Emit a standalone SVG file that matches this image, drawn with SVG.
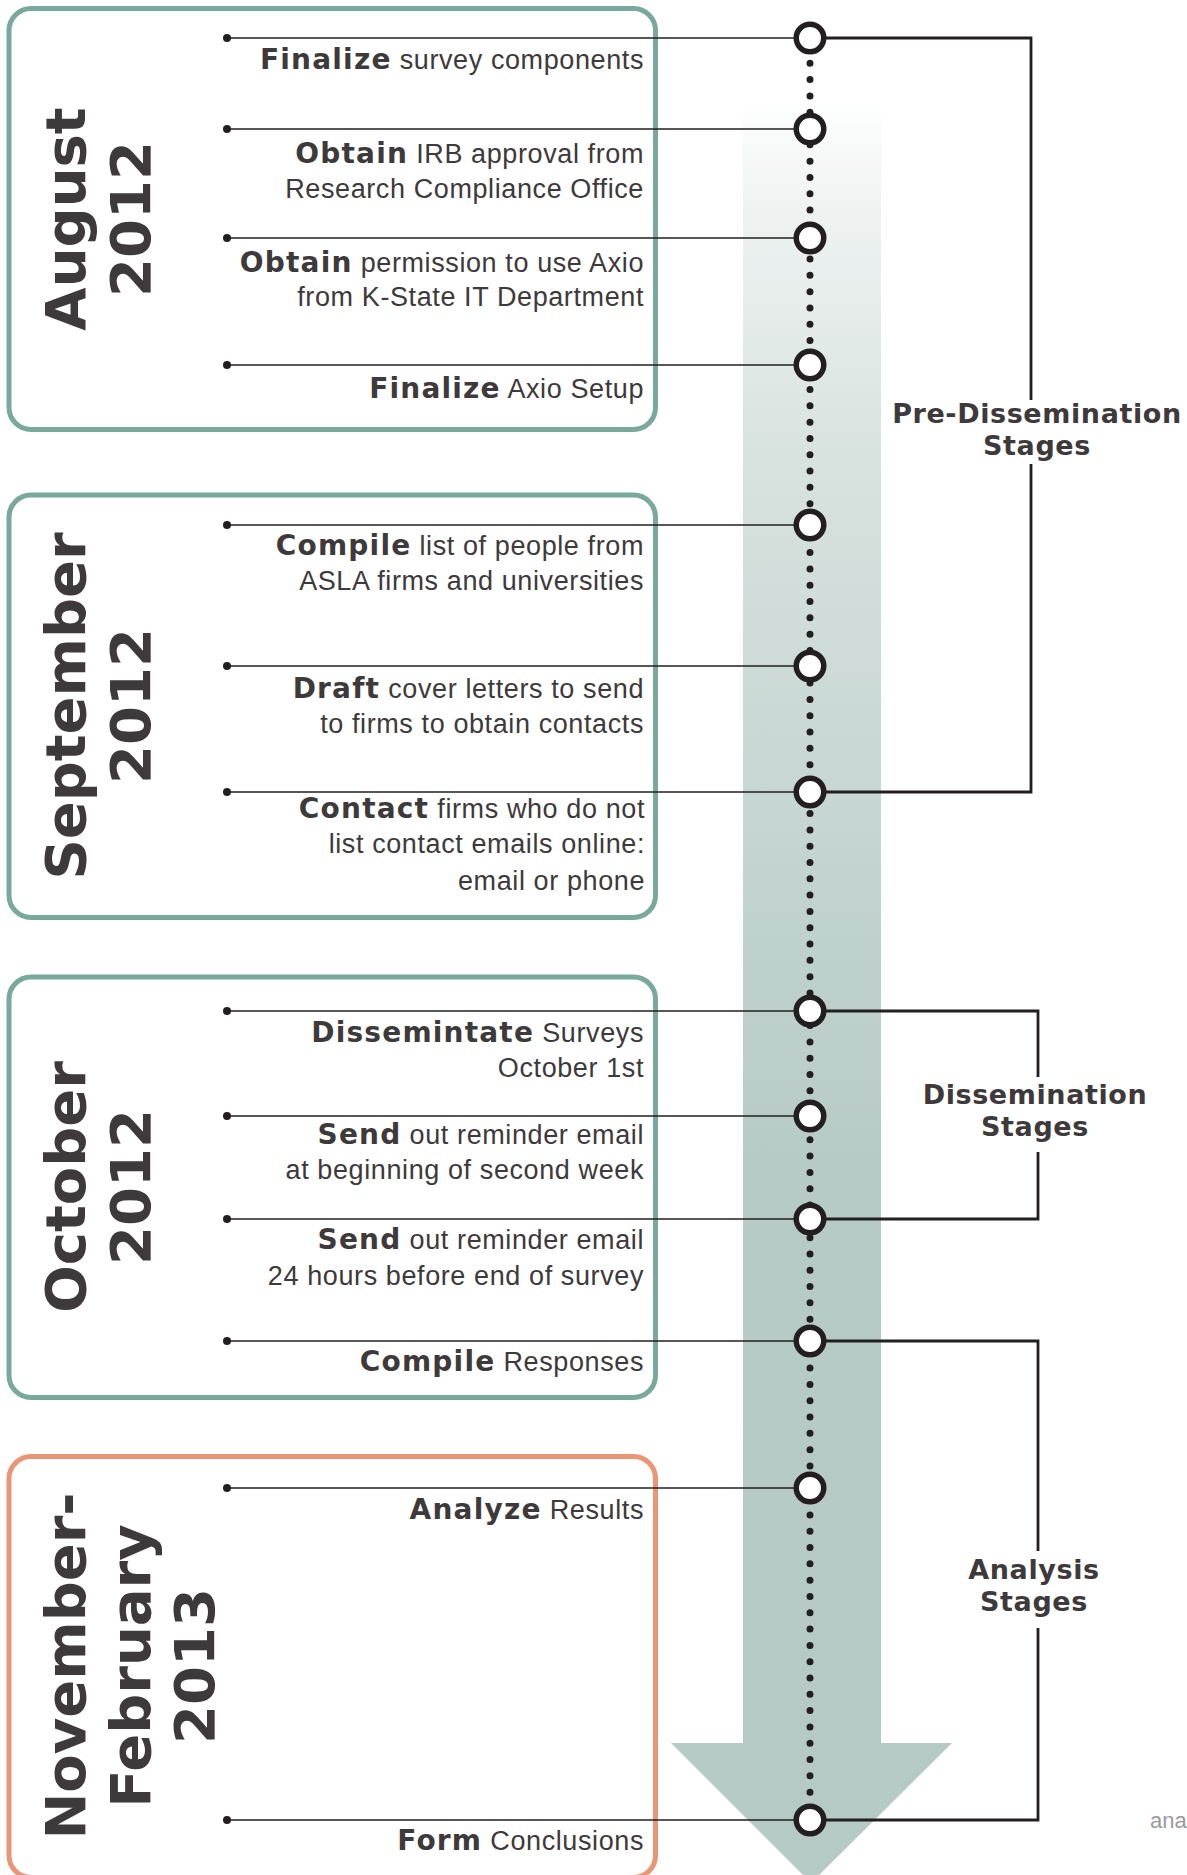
<svg xmlns="http://www.w3.org/2000/svg" width="1187" height="1875" viewBox="0 0 1187 1875">
<defs>
<linearGradient id="shaft" gradientUnits="userSpaceOnUse" x1="0" y1="95" x2="0" y2="1745">
<stop offset="0" stop-color="#ffffff"/>
<stop offset="0.07" stop-color="#eef3f2"/>
<stop offset="0.22" stop-color="#d8e2df"/>
<stop offset="0.52" stop-color="#bfd1cd"/>
<stop offset="0.65" stop-color="#b7cbc6"/>
<stop offset="1" stop-color="#b6cac5"/>
</linearGradient>
<style>
.box{fill:none;stroke-width:5}
.teal{stroke:#79A89D}
.orange{stroke:#E99677}
.hd{font-family:"DejaVu Sans",sans-serif;font-weight:bold;font-size:56px;fill:#3E393A;text-anchor:middle}
.it{font-family:"Liberation Sans",Arial,sans-serif;font-size:27px;fill:#3E393A;text-anchor:end;letter-spacing:0.6px}
.b{font-family:"DejaVu Sans",sans-serif;font-weight:bold;font-size:28px;letter-spacing:1.2px}
.lab{font-family:"DejaVu Sans",sans-serif;font-weight:bold;font-size:27px;fill:#3E393A;text-anchor:middle;letter-spacing:0.6px}
.ln{stroke:#231F20;stroke-width:1.6;fill:none}
.br{stroke:#231F20;stroke-width:2.8;fill:none}
.node{fill:#ffffff;stroke:#231F20;stroke-width:5.5}
.dot{fill:#231F20}
</style>
</defs>
<rect width="1187" height="1875" fill="#ffffff"/>

<g id="arrow">
<rect x="743" y="95" width="138" height="1650" fill="url(#shaft)"/>
<polygon points="671,1743 952,1743 811,1883" fill="#b6cac5"/>
</g>

<g id="box-august">
<rect class="box teal" x="9" y="8.5" width="646.5" height="421" rx="22"/>
<text class="hd" transform="translate(85,219) rotate(-90)">August</text>
<text class="hd" transform="translate(150,219) rotate(-90)">2012</text>
</g>
<g id="box-september">
<rect class="box teal" x="9" y="495" width="646.5" height="422.5" rx="22"/>
<text class="hd" transform="translate(85,706) rotate(-90)">September</text>
<text class="hd" transform="translate(150,706) rotate(-90)">2012</text>
</g>
<g id="box-october">
<rect class="box teal" x="9" y="977" width="646.5" height="420.5" rx="22"/>
<text class="hd" transform="translate(85,1187) rotate(-90)">October</text>
<text class="hd" transform="translate(150,1187) rotate(-90)">2012</text>
</g>
<g id="box-november">
<rect class="box orange" x="9" y="1456.5" width="646.5" height="421" rx="22"/>
<text class="hd" transform="translate(85,1666) rotate(-90)">November-</text>
<text class="hd" transform="translate(150,1666) rotate(-90)">February</text>
<text class="hd" transform="translate(214,1666) rotate(-90)">2013</text>
</g>

<g id="connectors">
<line x1="810" y1="47" x2="810" y2="1820" stroke="#231F20" stroke-width="7" stroke-linecap="round" stroke-dasharray="0 16.31"/>
<path class="ln" d="M227,38H810M227,129H810M227,238H810M227,365H810M227,525H810M227,666H810M227,792H810M227,1011H810M227,1116H810M227,1219H810M227,1341H810M227,1488H810M227,1820H810"/>
<path class="br" d="M810,38H1031V400M1031,464V792H810"/>
<path class="br" d="M810,1011H1038V1077M1038,1152V1219H810"/>
<path class="br" d="M810,1341H1038V1551M1038,1628V1820H810"/>
</g>

<g id="step-1">
<circle class="dot" cx="227" cy="38" r="4"/>
<circle class="node" cx="810" cy="38" r="13.75"/>
<text class="it" x="644" y="69"><tspan class="b">Finalize</tspan> survey components</text>
</g>
<g id="step-2">
<circle class="dot" cx="227" cy="129" r="4"/>
<circle class="node" cx="810" cy="129" r="13.75"/>
<text class="it" x="644" y="163"><tspan class="b">Obtain</tspan> IRB approval from</text>
<text class="it" x="644" y="198">Research Compliance Office</text>
</g>
<g id="step-3">
<circle class="dot" cx="227" cy="238" r="4"/>
<circle class="node" cx="810" cy="238" r="13.75"/>
<text class="it" x="644" y="272"><tspan class="b">Obtain</tspan> permission to use Axio</text>
<text class="it" x="644" y="306">from K-State IT Department</text>
</g>
<g id="step-4">
<circle class="dot" cx="227" cy="365" r="4"/>
<circle class="node" cx="810" cy="365" r="13.75"/>
<text class="it" x="644" y="398"><tspan class="b">Finalize</tspan> Axio Setup</text>
</g>
<g id="step-5">
<circle class="dot" cx="227" cy="525" r="4"/>
<circle class="node" cx="810" cy="525" r="13.75"/>
<text class="it" x="644" y="555"><tspan class="b">Compile</tspan> list of people from</text>
<text class="it" x="644" y="590">ASLA firms and universities</text>
</g>
<g id="step-6">
<circle class="dot" cx="227" cy="666" r="4"/>
<circle class="node" cx="810" cy="666" r="13.75"/>
<text class="it" x="644" y="698"><tspan class="b">Draft</tspan> cover letters to send</text>
<text class="it" x="644" y="733">to firms to obtain contacts</text>
</g>
<g id="step-7">
<circle class="dot" cx="227" cy="792" r="4"/>
<circle class="node" cx="810" cy="792" r="13.75"/>
<text class="it" x="645" y="818"><tspan class="b">Contact</tspan> firms who do not</text>
<text class="it" x="645" y="853">list contact emails online:</text>
<text class="it" x="645" y="890">email or phone</text>
</g>
<g id="step-8">
<circle class="dot" cx="227" cy="1011" r="4"/>
<circle class="node" cx="810" cy="1011" r="13.75"/>
<text class="it" x="644" y="1042"><tspan class="b">Dissemintate</tspan> Surveys</text>
<text class="it" x="644" y="1077">October 1st</text>
</g>
<g id="step-9">
<circle class="dot" cx="227" cy="1116" r="4"/>
<circle class="node" cx="810" cy="1116" r="13.75"/>
<text class="it" x="644" y="1144"><tspan class="b">Send</tspan> out reminder email</text>
<text class="it" x="644" y="1179">at beginning of second week</text>
</g>
<g id="step-10">
<circle class="dot" cx="227" cy="1219" r="4"/>
<circle class="node" cx="810" cy="1219" r="13.75"/>
<text class="it" x="644" y="1249"><tspan class="b">Send</tspan> out reminder email</text>
<text class="it" x="644" y="1285">24 hours before end of survey</text>
</g>
<g id="step-11">
<circle class="dot" cx="227" cy="1341" r="4"/>
<circle class="node" cx="810" cy="1341" r="13.75"/>
<text class="it" x="644" y="1371"><tspan class="b">Compile</tspan> Responses</text>
</g>
<g id="step-12">
<circle class="dot" cx="227" cy="1488" r="4"/>
<circle class="node" cx="810" cy="1488" r="13.75"/>
<text class="it" x="644" y="1519"><tspan class="b">Analyze</tspan> Results</text>
</g>
<g id="step-13">
<circle class="dot" cx="227" cy="1820" r="4"/>
<circle class="node" cx="810" cy="1820" r="13.75"/>
<text class="it" x="644" y="1850"><tspan class="b">Form</tspan> Conclusions</text>
</g>

<g id="label-pre">
<text class="lab" x="1037" y="423">Pre-Dissemination</text>
<text class="lab" x="1037" y="455">Stages</text>
</g>
<g id="label-dissemination">
<text class="lab" x="1035" y="1104">Dissemination</text>
<text class="lab" x="1035" y="1136">Stages</text>
</g>
<g id="label-analysis">
<text class="lab" x="1034" y="1579">Analysis</text>
<text class="lab" x="1034" y="1611">Stages</text>
</g>
<text x="1150" y="1828" font-family="Liberation Sans, Arial, sans-serif" font-size="22" fill="#9a9a9a">ana</text>
</svg>
